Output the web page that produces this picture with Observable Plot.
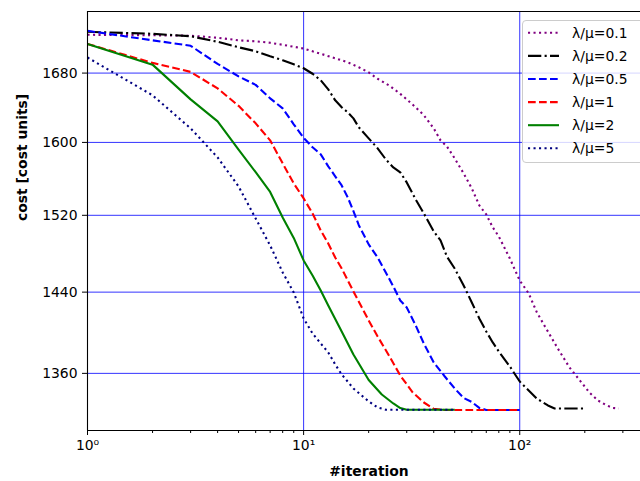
<!DOCTYPE html>
<html><head><meta charset="utf-8">
<script src="https://cdn.jsdelivr.net/npm/d3@7"></script>
<script src="https://cdn.jsdelivr.net/npm/@observablehq/plot@0.6"></script>
<style>
html,body{margin:0;padding:0;background:#fff;overflow:hidden;}
#wrap{position:relative;width:640px;height:481px;overflow:hidden;font-family:"DejaVu Sans",sans-serif;}
#legend{position:absolute;left:522px;top:20px;width:130px;height:143px;background:rgba(255,255,255,0.8);border:1px solid #cccccc;border-radius:4px;box-sizing:border-box;}
</style></head><body><div id="wrap"></div>
<script>
// ---- data ----
const seriesLabels = ["λ/μ=0.1","λ/μ=0.2","λ/μ=0.5","λ/μ=1","λ/μ=2","λ/μ=5"];

const iter01 = [1,2,3,4,5,6,7,8,9,10,12,14,16,18,20,22,25,28,30,33,36,40,43,46,50,55,60,65,70,75,80,90,100,110,120,130,140,150,170,190,210,230,250,270,287];
const cost01 = [1725.9,1725.3,1724.7,1722.3,1719.2,1718.0,1716.2,1713.8,1711.4,1709.2,1703.0,1697.6,1692.8,1686.9,1680.9,1673.3,1665.0,1655.6,1649.2,1640.0,1630.8,1615.9,1602.3,1595.6,1582.1,1565.5,1549.0,1530.6,1520.9,1507.1,1497.5,1474.5,1451.8,1438.7,1419.6,1406.6,1394.8,1384.0,1365.6,1353.1,1341.8,1334.3,1330.1,1327.3,1326.8];

const iter02 = [1,2,3,4,5,6,7,8,9,10,11,12,13,14,15,16,17,18,20,22,24,26,28,30,33,36,40,43,46,50,55,60,65,70,75,80,90,100,110,120,135,145,200];
const cost02 = [1729.5,1727.1,1724.1,1717.4,1710.8,1706.0,1700.0,1695.2,1690.4,1685.7,1679.2,1671.5,1660.9,1648.1,1640.0,1634.2,1627.3,1617.1,1604.6,1593.4,1581.0,1572.1,1566.6,1555.6,1537.1,1522.0,1502.9,1493.4,1476.6,1464.2,1446.8,1429.6,1413.6,1400.7,1389.9,1381.1,1366.6,1352.2,1343.7,1336.1,1329.6,1326.8,1326.8];

const iter05 = [1,2,3,4,5,6,7,8,9,10,11,12,13,14,15,16,17,18,20,22,24,26,28,30,33,36,40,45,50,55,60,65,70,100];
const cost05 = [1730.7,1719.2,1712.6,1690.9,1676.1,1666.1,1650.4,1638.8,1620.5,1605.2,1594.5,1586.6,1573.3,1562.3,1552.3,1539.3,1524.5,1509.5,1489.2,1475.5,1460.1,1445.8,1431.6,1424.6,1406.6,1388.9,1370.5,1357.0,1345.6,1336.7,1332.9,1327.3,1325.4,1325.4];

const iter1 = [1,2,3,4,5,6,7,8,9,10,11,12,13,14,15,17,20,22,25,28,32,36,40,45,100];
const cost1 = [1714.8,1692.1,1681.4,1662.0,1641.7,1621.6,1602.3,1576.6,1554.5,1538.2,1522.0,1503.9,1490.2,1475.5,1464.2,1440.7,1411.6,1395.8,1376.1,1357.9,1341.8,1332.4,1326.5,1325.4,1325.4];

const iter2 = [1,2,3,4,5,6,7,8,9,10,11,12,13,15,17,20,23,26,28,30,50];
const cost2 = [1714.8,1690.0,1649.2,1623.8,1591.8,1566.8,1545.2,1517.7,1496.0,1472.5,1457.0,1441.7,1426.6,1400.7,1378.1,1353.6,1339.9,1331.5,1327.2,1325.6,1325.6];

const iter5 = [1,2,3,4,5,6,7,8,9,10,11,12,13,14,15,17,20,22,24,50];
const cost5 = [1698.5,1653.9,1615.9,1583.2,1551.2,1516.6,1488.1,1460.1,1439.7,1413.6,1398.7,1388.9,1380.2,1368.6,1359.0,1345.6,1333.4,1327.7,1325.6,1325.6];

const xMajorTicks = [1,10,100];
const xMajorLabels = ["10⁰","10¹","10²"];
const xMinorTicks = [2,3,4,5,6,7,8,9,20,30,40,50,60,70,80,90,200,300];
const yTicks = [1360,1440,1520,1600,1680];

// ---- styles ----
const styles = [
  {color:"purple", dash:"2.1,3.4"},
  {color:"black",  dash:"13.3,3.3,2.1,3.3"},
  {color:"blue",   dash:"7.7,3.3"},
  {color:"red",    dash:"7.7,3.3"},
  {color:"green",  dash:null},
  {color:"navy",   dash:"2.1,3.4"}
];

const iters = [iter01, iter02, iter05, iter1, iter2, iter5];
const costs = [cost01, cost02, cost05, cost1, cost2, cost5];
const series = seriesLabels.map((name, i) => ({
  name, rows: iters[i].map((it, j) => ({it, cost: costs[i][j]}))
}));

const xDomain = [1, 362];
const yDomain = [1306.4, 1754.4];

const lineMarks = series.map((s, i) => Plot.line(s.rows, {
  x: "it", y: "cost", stroke: styles[i].color, strokeWidth: 2.1,
  strokeDasharray: styles[i].dash || undefined, strokeLinecap: "butt",
  strokeLinejoin: "round", curve: "linear"
}));

const chart = Plot.plot({
  width: 640, height: 481,
  marginLeft: 87, marginRight: 0, marginTop: 11, marginBottom: 51,
  style: {fontFamily: "DejaVu Sans, sans-serif", fontSize: "13.9px", background: "white", color: "black"},
  x: {type: "log", domain: xDomain},
  y: {type: "log", domain: yDomain},
  marks: [
    Plot.gridX(xMajorTicks.slice(1), {stroke: "#0000ff", strokeOpacity: 0.8, strokeWidth: 1}),
    Plot.gridY(yTicks, {stroke: "#0000ff", strokeOpacity: 0.8, strokeWidth: 1}),
    ...lineMarks,
    Plot.ruleY([yDomain[0]], {stroke: "black", strokeWidth: 1.1}),
    Plot.ruleY([yDomain[1]], {stroke: "black", strokeWidth: 1.1}),
    Plot.ruleX([xDomain[0]], {stroke: "black", strokeWidth: 1.1}),
    Plot.axisX(xMajorTicks, {tickSize: 5, tickPadding: 5, label: null,
      tickFormat: d => xMajorLabels[xMajorTicks.indexOf(d)], fontSize: 13.9}),
    Plot.axisX(xMinorTicks, {tickSize: 3, label: null, tickFormat: () => ""}),
    Plot.axisY(yTicks, {tickSize: 5, tickPadding: 5, label: null, tickFormat: d => String(d), fontSize: 13.9}),
    Plot.text(["#iteration"], {frameAnchor: "bottom", dy: 45, dx: 5, fontWeight: "bold", fontSize: 13.9}),
    Plot.text(["cost [cost units]"], {frameAnchor: "left", dx: -65, rotate: -90, fontWeight: "bold", fontSize: 13.9})
  ]
});

const wrap = document.getElementById("wrap");
wrap.appendChild(chart);

// legend overlay
const legend = d3.select(wrap).append("div").attr("id", "legend");
const lsvg = legend.append("svg").attr("width", 128).attr("height", 141)
  .style("position", "absolute").style("left", "0px").style("top", "0px");
series.forEach((s, i) => {
  const cy = 11.8 + i * 23.1;
  lsvg.append("line").attr("x1", 5).attr("x2", 36).attr("y1", cy).attr("y2", cy)
    .attr("stroke", styles[i].color).attr("stroke-width", 2.1)
    .attr("stroke-dasharray", styles[i].dash);
  lsvg.append("text").attr("x", 49).attr("y", cy).attr("dy", "0.35em")
    .attr("font-family", "DejaVu Sans, sans-serif").attr("font-size", 13.9)
    .attr("fill", "black").text(s.name);
});
</script>
</body></html>
